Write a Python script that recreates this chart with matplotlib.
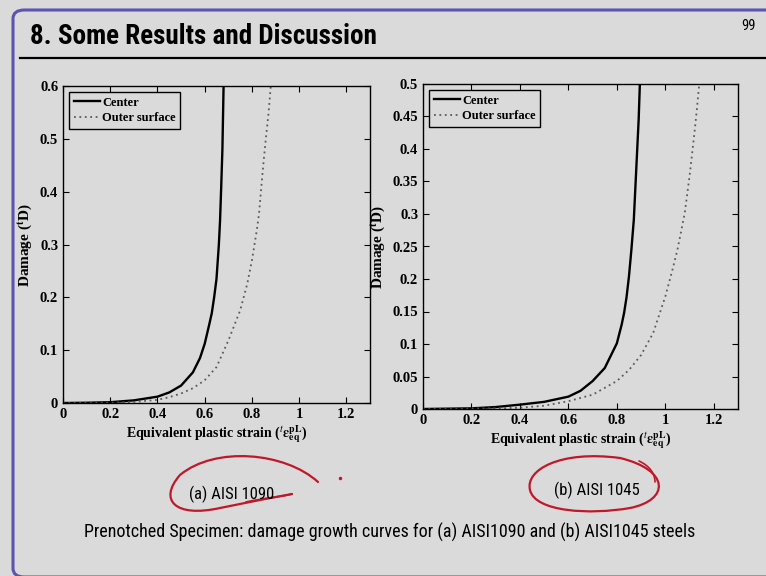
import matplotlib
matplotlib.use("Agg")
import matplotlib.pyplot as plt
from matplotlib.path import Path
from matplotlib.patches import PathPatch, FancyBboxPatch
from matplotlib.lines import Line2D

# ---------------- data ----------------
x_ticks = [0, 0.2, 0.4, 0.6, 0.8, 1.0, 1.2]
x_tick_labels = ["0", "0.2", "0.4", "0.6", "0.8", "1", "1.2"]
a_y_ticks = [0, 0.1, 0.2, 0.3, 0.4, 0.5, 0.6]
a_y_tick_labels = ["0", "0.1", "0.2", "0.3", "0.4", "0.5", "0.6"]
b_y_ticks = [0, 0.05, 0.1, 0.15, 0.2, 0.25, 0.3, 0.35, 0.4, 0.45, 0.5]
b_y_tick_labels = ["0", "0.05", "0.1", "0.15", "0.2", "0.25", "0.3", "0.35", "0.4", "0.45", "0.5"]

a_center_x = [0, 0.1, 0.2, 0.3, 0.4, 0.45, 0.5, 0.55, 0.58, 0.6, 0.62, 0.63, 0.64, 0.65, 0.66, 0.665, 0.67, 0.675, 0.68]
a_center_y = [0, 0.0005, 0.0015, 0.005, 0.012, 0.02, 0.033, 0.058, 0.085, 0.112, 0.15, 0.17, 0.2, 0.235, 0.3, 0.345, 0.41, 0.48, 0.6]
a_outer_x = [0, 0.2, 0.3, 0.4, 0.45, 0.5, 0.55, 0.6, 0.65, 0.7, 0.75, 0.78, 0.8, 0.82, 0.83, 0.84, 0.85, 0.86, 0.87, 0.88]
a_outer_y = [0, 0.0005, 0.002, 0.006, 0.011, 0.018, 0.028, 0.043, 0.068, 0.118, 0.175, 0.225, 0.27, 0.325, 0.358, 0.41, 0.46, 0.505, 0.547, 0.6]

b_center_x = [0, 0.2, 0.3, 0.4, 0.5, 0.6, 0.65, 0.7, 0.75, 0.8, 0.82, 0.83, 0.84, 0.85, 0.86, 0.87, 0.88, 0.89, 0.895]
b_center_y = [0, 0.001, 0.003, 0.0067, 0.011, 0.019, 0.028, 0.043, 0.063, 0.101, 0.13, 0.148, 0.172, 0.204, 0.245, 0.291, 0.368, 0.445, 0.5]
b_outer_x = [0, 0.3, 0.4, 0.5, 0.6, 0.7, 0.8, 0.85, 0.9, 0.95, 1.0, 1.03, 1.05, 1.08, 1.1, 1.12, 1.13, 1.14]
b_outer_y = [0, 0.001, 0.002, 0.005, 0.012, 0.022, 0.043, 0.060, 0.083, 0.117, 0.173, 0.215, 0.245, 0.301, 0.358, 0.424, 0.46, 0.5]

series_labels = ["Center", "Outer surface"]
title_text = "8. Some Results and Discussion"
page_no = "99"
cap_a = "(a) AISI 1090"
cap_b = "(b) AISI 1045"
caption = "Prenotched Specimen: damage growth curves for (a) AISI1090 and (b) AISI1045 steels"

# ---------------- style ----------------
BG = "#dadada"
plt.rcParams["mathtext.fontset"] = "stix"
serif = ["Liberation Serif", "DejaVu Serif"]
narrow = ["Roboto Condensed", "Pragati Narrow", "Liberation Sans", "DejaVu Sans"]

W, H = 766, 576
fig = plt.figure(figsize=(W / 100, H / 100), dpi=100)
fig.patch.set_facecolor(BG)

def px(x0, y0, w, h):
    return [x0 / W, 1 - (y0 + h) / H, w / W, h / H]

# slide frame
frame = FancyBboxPatch((13 / W, 1 - 577 / H), 1.2, (577 - 10) / H, boxstyle="round,pad=0,rounding_size=0.015",
                       transform=fig.transFigure, facecolor="none", edgecolor="#5b55b0", lw=2.2, zorder=0)
fig.patches.append(frame)
fig.add_artist(Line2D([20 / W, 1], [1 - 58 / H, 1 - 58 / H], color="black", lw=1.6, transform=fig.transFigure))

fig.text(30 / W, 1 - 37 / H, title_text, fontsize=19.5, fontweight="bold", family=narrow,
         va="center", ha="left")
fig.text(748 / W, 1 - 26 / H, page_no, fontsize=10.5, family=narrow, va="center", ha="center")


def make(ax, cx, cy, ox, oy, yt, ytl, ylim):
    ax.set_facecolor(BG)
    ax.plot(cx, cy, color="black", lw=1.7, label=series_labels[0])
    ax.plot(ox, oy, color="#5a5a5a", lw=1.3, ls=(0, (1, 2)), label=series_labels[1])
    ax.set_xlim(0, 1.3)
    ax.set_ylim(*ylim)
    ax.set_xticks(x_ticks)
    ax.set_xticklabels(x_tick_labels)
    ax.set_yticks(yt)
    ax.set_yticklabels(ytl)
    ax.tick_params(direction="in", top=True, right=True, length=4, width=0.8, labelsize=10.5)
    for lab in ax.get_xticklabels() + ax.get_yticklabels():
        lab.set_family(serif)
        lab.set_fontweight("bold")
    for s in ax.spines.values():
        s.set_linewidth(1.0)
    ax.set_xlabel(r"Equivalent plastic strain ($^{t}\mathbf{\varepsilon}_{\mathbf{eq}}^{\mathbf{pL}}$)", family=serif,
                  fontweight="bold", fontsize=10, labelpad=2)
    ax.set_ylabel(r"Damage ($^{\mathbf{t}}$D)", family=serif, fontweight="bold", fontsize=11, labelpad=4)
    leg = ax.legend(loc="upper left", prop={"family": serif, "weight": "bold", "size": 9},
                    fancybox=False, edgecolor="black", facecolor=BG, framealpha=1,
                    handlelength=2.1, borderpad=0.35, labelspacing=0.3, handletextpad=0.2,
                    borderaxespad=0.5)
    leg.get_frame().set_linewidth(1.0)


ax1 = fig.add_axes(px(63, 86, 307, 317))
make(ax1, a_center_x, a_center_y, a_outer_x, a_outer_y, a_y_ticks, a_y_tick_labels, (0, 0.6))
ax2 = fig.add_axes(px(423, 84, 315, 325))
make(ax2, b_center_x, b_center_y, b_outer_x, b_outer_y, b_y_ticks, b_y_tick_labels, (0, 0.5))

fig.text(232 / W, 1 - 494 / H, cap_a, fontsize=12, family=narrow, ha="center", va="center")
fig.text(597 / W, 1 - 490 / H, cap_b, fontsize=12, family=narrow, ha="center", va="center")
fig.text(390 / W, 1 - 532 / H, caption, fontsize=13, family=narrow, ha="center", va="center")

# red hand-drawn annotation marks
RED = "#c0182a"
def stroke(pts, codes, lw=1.6):
    verts = [(x / W, 1 - y / H) for x, y in pts]
    p = PathPatch(Path(verts, codes), transform=fig.transFigure, facecolor="none", edgecolor=RED, lw=lw,
                  capstyle="round")
    fig.patches.append(p)

C4 = Path.CURVE4
stroke([(318, 482), (285, 452), (215, 446), (180, 475), (158, 500), (175, 518), (220, 508),
        (250, 502), (275, 497), (292, 494)],
       [Path.MOVETO, C4, C4, C4, C4, C4, C4, C4, C4, C4])
stroke([(246, 502), (265, 498), (280, 497), (292, 494)], [Path.MOVETO, C4, C4, C4], lw=1.3)
stroke([(620, 458), (560, 450), (525, 470), (530, 490), (535, 512), (590, 515), (630, 508), (670, 500), (670, 470), (620, 458)],
       [Path.MOVETO, C4, C4, C4, C4, C4, C4, C4, C4, C4])
stroke([(639, 461), (650, 466), (655, 474), (655, 482)], [Path.MOVETO, C4, C4, C4], lw=1.2)
fig.add_artist(Line2D([340 / W], [1 - 478 / H], marker="o", ms=1.5, color=RED, transform=fig.transFigure))

fig.savefig("out.png", dpi=100, facecolor=BG)
